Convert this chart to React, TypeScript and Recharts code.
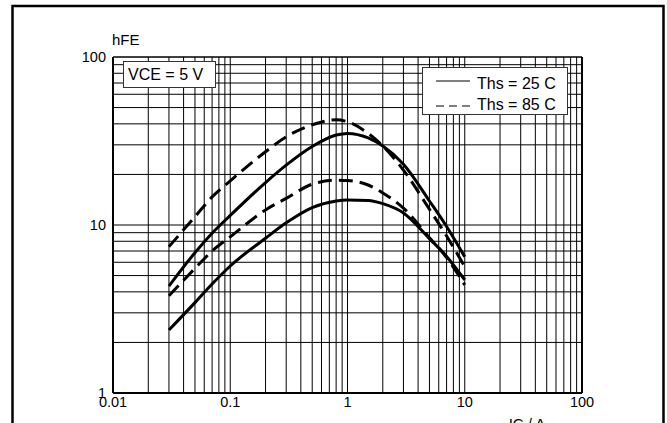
import React from "react";
import { LineChart, Line, XAxis, YAxis, ReferenceLine } from "recharts";

const IC = [0.03, 0.05, 0.07, 0.1, 0.2, 0.3, 0.5, 0.8, 1, 1.5, 2, 3, 5, 7, 10];
const HFE_25_HIGH = [4.33, 6.84, 8.94, 11.4, 17.9, 22.7, 29.3, 34.3, 35.1, 33.0, 29.5, 23.0, 13.9, 9.8, 6.47];
const HFE_85_HIGH = [7.43, 11.2, 14.7, 18.3, 27.3, 33.5, 39.5, 42.3, 41.2, 35.1, 29.5, 21.2, 12.4, 8.6, 5.65];
const HFE_85_LOW = [3.79, 5.52, 7.0, 8.5, 12.3, 14.4, 17.5, 18.5, 18.4, 17.3, 15.5, 12.6, 8.4, 6.4, 4.4];
const HFE_25_LOW = [2.37, 3.45, 4.45, 5.7, 8.34, 10.3, 12.7, 13.9, 14.1, 14.0, 13.4, 11.8, 8.3, 6.5, 4.71];

const X_TICKS = [0.01, 0.1, 1, 10, 100];
const X_TICK_LABELS = ["0.01", "0.1", "1", "10", "100"];
const Y_TICKS = [1, 10, 100];
const Y_TICK_LABELS = ["1", "10", "100"];
const DECADE_STEPS = [1, 2, 3, 4, 5, 6, 7, 8, 9];

const X_GRID: number[] = [];
[0.01, 0.1, 1, 10].forEach((d) => DECADE_STEPS.forEach((k) => X_GRID.push(+(k * d).toPrecision(3))));
const Y_GRID: number[] = [];
[1, 10].forEach((d) => DECADE_STEPS.forEach((k) => Y_GRID.push(k * d)));

const data = IC.map((ic, i) => ({
  ic,
  s25a: HFE_25_HIGH[i],
  s85a: HFE_85_HIGH[i],
  s85b: HFE_85_LOW[i],
  s25b: HFE_25_LOW[i],
}));

const FONT = "'Liberation Sans', Arial, sans-serif";

export default function App() {
  return (
    <div style={{ position: "absolute", left: 0, top: 0, width: 667, height: 423, overflow: "hidden", background: "#fff" }}>
      <LineChart
        width={667}
        height={423}
        data={data}
        margin={{ top: 57, right: 85, left: 63, bottom: 0 }}
      >
        {X_GRID.map((v) => (
          <ReferenceLine key={"x" + v} x={v} stroke="#000" strokeWidth={1} />
        ))}
        {Y_GRID.map((v) => (
          <ReferenceLine key={"y" + v} y={v} stroke="#000" strokeWidth={1} />
        ))}
        <ReferenceLine y={100} stroke="#000" strokeWidth={1.5} />
        <ReferenceLine x={100} stroke="#000" strokeWidth={2} />
        <XAxis
          dataKey="ic"
          type="number"
          scale="log"
          domain={[0.01, 100]}
          ticks={X_TICKS}
          tickFormatter={(v: number) => X_TICK_LABELS[X_TICKS.indexOf(v)] ?? String(v)}
          allowDataOverflow
          height={30}
          tickLine={false}
          tickSize={0}
          tickMargin={4}
          axisLine={{ stroke: "#000", strokeWidth: 2 }}
          tick={{ fill: "#000", fontSize: 14.5, fontFamily: FONT }}
          interval={0}
        />
        <YAxis
          type="number"
          scale="log"
          domain={[1, 100]}
          ticks={Y_TICKS}
          tickFormatter={(v: number) => Y_TICK_LABELS[Y_TICKS.indexOf(v)] ?? String(v)}
          allowDataOverflow
          width={50}
          tickLine={false}
          tickSize={0}
          tickMargin={7}
          axisLine={{ stroke: "#000", strokeWidth: 2 }}
          tick={{ fill: "#000", fontSize: 14.5, fontFamily: FONT }}
          interval={0}
        />
        <Line dataKey="s25a" type="monotone" stroke="#000" strokeWidth={3} dot={false} isAnimationActive={false} />
        <Line dataKey="s85a" type="monotone" stroke="#000" strokeWidth={3} strokeDasharray="14 7" dot={false} isAnimationActive={false} />
        <Line dataKey="s85b" type="monotone" stroke="#000" strokeWidth={3} strokeDasharray="14 7" dot={false} isAnimationActive={false} />
        <Line dataKey="s25b" type="monotone" stroke="#000" strokeWidth={3} dot={false} isAnimationActive={false} />
      </LineChart>
      <svg
        width={667}
        height={423}
        style={{ position: "absolute", left: 0, top: 0, pointerEvents: "none" }}
        fontFamily={FONT}
      >
        <rect x={12.5} y={6} width={651} height={440} fill="none" stroke="#000" strokeWidth={2.5} />
        <text x={112} y={45} fontSize={15} fill="#000">hFE</text>
        <text x={527} y={429} fontSize={15} fill="#000" textAnchor="middle">IC / A</text>
        <rect x={123.5} y={61.5} width={92} height={26} fill="#fff" stroke="#333" strokeWidth={1} />
        <text x={128} y={80} fontSize={16} fill="#000">VCE = 5 V</text>
        <rect x={422.5} y={67.5} width={145} height={47} fill="#fff" stroke="#333" strokeWidth={1} />
        <line x1={436} y1={81} x2={470} y2={81} stroke="#000" strokeWidth={1} />
        <line x1={436} y1={106} x2={470} y2={106} stroke="#000" strokeWidth={1} strokeDasharray="8 5" />
        <text x={477} y={89} fontSize={16} fill="#000">Ths = 25 C</text>
        <text x={477} y={110} fontSize={16} fill="#000">Ths = 85 C</text>
      </svg>
    </div>
  );
}
